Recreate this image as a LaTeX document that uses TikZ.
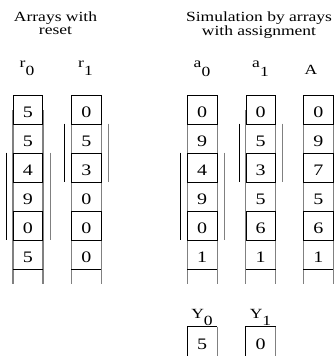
\documentclass[tikz,border=0pt]{standalone}
\usepackage{fontspec}
\setmainfont[FakeStretch=1.25]{Liberation Serif}

\begin{document}
\begin{tikzpicture}[x=1pt,y=-1pt,
every node/.style = {
inner sep = 0pt,
text      = black},
cell/.style  = {
draw,
line width     = 0.7pt,
minimum width  = 29.3pt,
minimum height = 29pt,
text height    = 16pt,
text depth     = 0pt,
font = \fontsize{16}{16}\selectfont},
opencell/.style = {cell, draw=none},
lbl/.style   = {anchor=base, font=\fontsize{14}{14}\selectfont},
title/.style = {anchor=north, align=center,
font=\fontsize{14}{12.5}\selectfont},
rail/.style  = {line width=1.2pt, black!50},
edge/.style  = {line width=0.7pt, black}
]
\useasboundingbox (0,0) rectangle (333,356);
%
\node[title] (ttlR) at (55.5,12) {Arrays with\\reset};
\node[title] (ttlA) at (259,12) {Simulation by arrays\\with assignment};
%
\node[lbl] (r0lbl) at (27,67) {r\raisebox{-8pt}{0}};
\node[lbl] (r1lbl) at (85.5,67) {r\raisebox{-8pt}{1}};
\node[lbl] (a0lbl) at (202,67) {a\raisebox{-9pt}{0}};
\node[lbl] (a1lbl) at (260.5,67) {a\raisebox{-9pt}{1}};
\node[lbl] (Albl)  at (311,74) {A};
\node[lbl] (y0lbl) at (202,318) {Y\raisebox{-7pt}{0}};
\node[lbl] (y1lbl) at (260.5,318) {Y\raisebox{-7pt}{1}};
%
\node[opencell] (y0c) at (202.2,341.5) {5};
\node[opencell] (y1c) at (260.5,341.5) {0};
%
% arrays with reset
\node[opencell] (r0c2) at (28,138.5) {5};
\node[opencell] (r0c4) at (28,196.5) {9};
\node[opencell] (r0c6) at (28,254.5) {5};
\node[opencell] (r1c2) at (86.3,138.5) {5};
\node[opencell] (r1c4) at (86.3,196.5) {0};
\node[opencell] (r1c6) at (86.3,254.5) {0};
% arrays with assignment
\node[opencell] (a0c2) at (202.2,138.5) {9};
\node[opencell] (a0c4) at (202.2,196.5) {9};
\node[opencell] (a0c6) at (202.2,254.5) {1};
\node[opencell] (a1c2) at (260.5,138.5) {5};
\node[opencell] (a1c4) at (260.5,196.5) {5};
\node[opencell] (a1c6) at (260.5,254.5) {1};
\node[opencell] (Ac2)  at (318.3,138.5) {9};
\node[opencell] (Ac4)  at (318.3,196.5) {5};
\node[opencell] (Ac6)  at (318.3,254.5) {1};
%
\draw[rail] ([yshift=13.3pt]r0c2.north west) -- ([yshift=-14.3pt]r0c6.south west);
\draw[rail] ([yshift=13.3pt]r0c2.north east) -- ([yshift=-14.3pt]r0c6.south east);
\draw[rail] ([yshift=13.3pt]r1c2.north west) -- ([yshift=-14.3pt]r1c6.south west);
\draw[rail] ([yshift=13.3pt]r1c2.north east) -- ([yshift=-14.3pt]r1c6.south east);
\draw[rail] ([yshift=13.3pt]a0c2.north west) -- ([yshift=-14.3pt]a0c6.south west);
\draw[rail] ([yshift=13.3pt]a0c2.north east) -- ([yshift=-14.3pt]a0c6.south east);
\draw[rail] ([yshift=13.3pt]a1c2.north west) -- ([yshift=-14.3pt]a1c6.south west);
\draw[rail] ([yshift=13.3pt]a1c2.north east) -- ([yshift=-14.3pt]a1c6.south east);
\draw[rail] ([yshift=13.3pt]Ac2.north west) -- ([yshift=-14.3pt]Ac6.south west);
\draw[rail] ([yshift=13.3pt]Ac2.north east) -- ([yshift=-14.3pt]Ac6.south east);
%
\node[cell] (r0c1) at (28,109.5) {5};
\node[cell] (r0c3) at (28,167.5) {4};
\node[cell] (r0c5) at (28,225.5) {0};
\node[cell] (r1c1) at (86.3,109.5) {0};
\node[cell] (r1c3) at (86.3,167.5) {3};
\node[cell] (r1c5) at (86.3,225.5) {0};
\node[cell] (a0c1) at (202.2,109.5) {0};
\node[cell] (a0c3) at (202.2,167.5) {4};
\node[cell] (a0c5) at (202.2,225.5) {0};
\node[cell] (a1c1) at (260.5,109.5) {0};
\node[cell] (a1c3) at (260.5,167.5) {3};
\node[cell] (a1c5) at (260.5,225.5) {6};
\node[cell] (Ac1)  at (318.3,109.5) {0};
\node[cell] (Ac3)  at (318.3,167.5) {7};
\node[cell] (Ac5)  at (318.3,225.5) {6};
%
\draw[edge] (r0c6.south west) -- (r0c6.south east);
\draw[edge] (r1c6.south west) -- (r1c6.south east);
\draw[edge] (a0c6.south west) -- (a0c6.south east);
\draw[edge] (a1c6.south west) -- (a1c6.south east);
\draw[edge] (Ac6.south west) -- (Ac6.south east);
%
\draw[edge] ([xshift=-6.6pt]r0c3.north west) -- ([xshift=-6.6pt]r0c5.south west);
\draw[rail] ([xshift=7.3pt]r0c3.north east) -- ([xshift=7.3pt]r0c5.south east);
\draw[edge] ([xshift=-6.6pt]r1c2.north west) -- ([xshift=-6.6pt]r1c3.south west);
\draw[rail] ([xshift=7.3pt]r1c2.north east) -- ([xshift=7.3pt]r1c3.south east);
\draw[edge] ([xshift=-6.6pt]a0c3.north west) -- ([xshift=-6.6pt]a0c5.south west);
\draw[rail] ([xshift=7.3pt]a0c3.north east) -- ([xshift=7.3pt]a0c5.south east);
\draw[edge] ([xshift=-6.6pt]a1c2.north west) -- ([xshift=-6.6pt]a1c3.south west);
\draw[rail] ([xshift=7.3pt]a1c2.north east) -- ([xshift=7.3pt]a1c3.south east);
%
\draw[edge] (y0c.south west) -- (y0c.north west) -- (y0c.north east);
\draw[rail] (y0c.north east) -- (y0c.south east);
\draw[edge] (y1c.south west) -- (y1c.north west) -- (y1c.north east);
\draw[rail] (y1c.north east) -- (y1c.south east);
%
\end{tikzpicture}
\end{document}
